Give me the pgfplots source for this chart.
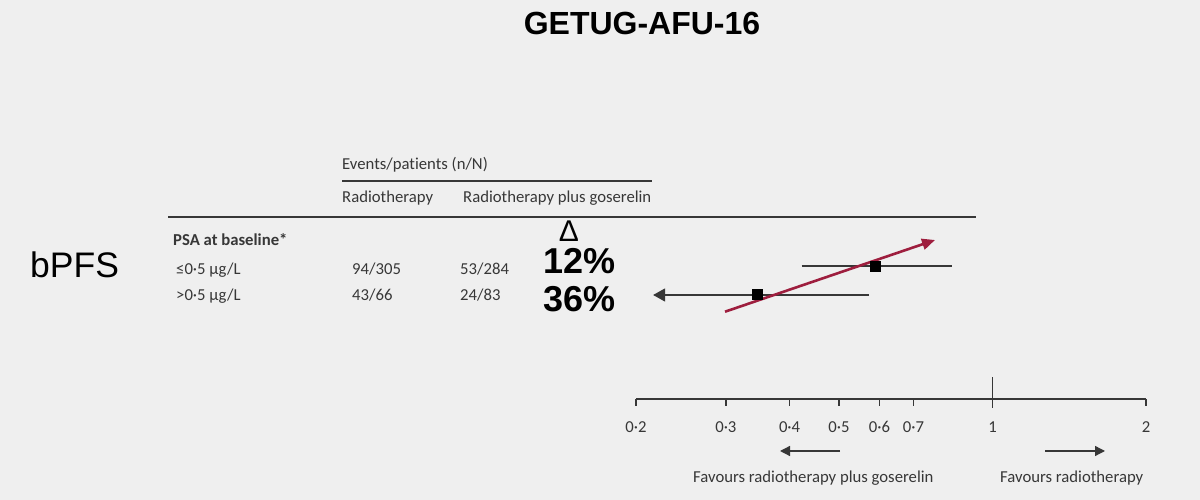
\documentclass[border=0pt]{standalone}
\usepackage{fontspec}
\setmainfont{Carlito}[Ligatures=NoCommon]
\newfontfamily\arial{Liberation Sans}
\usepackage{pgfplots}
\pgfplotsset{compat=1.18}
\usetikzlibrary{arrows.meta}
\definecolor{bg}{RGB}{239,239,239}
\definecolor{txt}{RGB}{55,55,55}
\definecolor{crim}{RGB}{158,30,62}
\newcommand{\tf}{\fontsize{16.7}{20}\selectfont}

\begin{document}
\begin{tikzpicture}
\fill[bg] (0,0) rectangle (1200pt,500pt);
\begin{axis}[at={(0,0)}, anchor=south west, scale only axis,
  width=1200pt, height=500pt, xmode=log, xmin=0.011322, xmax=2.5517,
  ymin=0, ymax=500, y dir=reverse, hide axis, clip=false]
% forest axis
\addplot[draw=txt, line width=1.8pt, forget plot] coordinates {(0.2,399) (2,399)};
\draw[txt, line width=1.5pt] (axis cs:0.2,399) -- (axis cs:0.2,406);
\draw[txt, line width=1.5pt] (axis cs:0.3,399) -- (axis cs:0.3,406);
\draw[txt, line width=1.5pt] (axis cs:0.4,399) -- (axis cs:0.4,406);
\draw[txt, line width=1.5pt] (axis cs:0.5,399) -- (axis cs:0.5,406);
\draw[txt, line width=1.5pt] (axis cs:0.6,399) -- (axis cs:0.6,406);
\draw[txt, line width=1.5pt] (axis cs:0.7,399) -- (axis cs:0.7,406);
\draw[txt, line width=1.6pt] (axis cs:1,377) -- (axis cs:1,408);
\draw[txt, line width=1.5pt] (axis cs:2,399) -- (axis cs:2,406);
\node[anchor=base, txt, font=\tf] at (axis cs:0.2,432) {0·2};
\node[anchor=base, txt, font=\tf] at (axis cs:0.3,432) {0·3};
\node[anchor=base, txt, font=\tf] at (axis cs:0.4,432) {0·4};
\node[anchor=base, txt, font=\tf] at (axis cs:0.5,432) {0·5};
\node[anchor=base, txt, font=\tf] at (axis cs:0.6,432) {0·6};
\node[anchor=base, txt, font=\tf] at (axis cs:0.7,432) {0·7};
\node[anchor=base, txt, font=\tf] at (axis cs:1,432) {1};
\node[anchor=base, txt, font=\tf] at (axis cs:2,432) {2};
% confidence intervals
\addplot[draw=txt, line width=1.4pt, forget plot] coordinates {(0.4225,266) (0.8318,266)};
\addplot[draw=txt, line width=1.4pt, -{Triangle[length=12pt,width=13pt]}, forget plot] coordinates {(0.5727,295) (0.2160,295)};
% hazard ratios
\addplot[only marks, mark=square*, mark size=5pt, black, forget plot] coordinates {(0.590,266.5) (0.3464,294)};
% red trend arrow
\addplot[crim, line width=2.6pt, -{Triangle[length=13pt,width=11pt]}, forget plot] coordinates {(0.2989,311.7) (0.7714,240)};
\end{axis}
\begin{scope}[x=1pt, y=-1pt, yshift=500pt]
\node[anchor=base, inner sep=0, black, font=\arial\bfseries\fontsize{32}{36}\selectfont] at (642,35) {GETUG-AFU-16};
\node[anchor=base west, inner sep=0, black, font=\arial\fontsize{35.5}{40}\selectfont] at (30,278) {bPFS};
\node[anchor=base west, inner sep=0, txt, font=\tf] at (342,170) {Events/patients (n/N)};
\draw[txt, line width=1.2pt] (342,181) -- (652,181);
\node[anchor=base west, inner sep=0, txt, font=\tf] at (342,203) {Radiotherapy};
\node[anchor=base west, inner sep=0, txt, font=\tf] at (463,203) {Radiotherapy plus goserelin};
\draw[txt, line width=2pt] (168,217) -- (976,217);
\node[anchor=base, inner sep=0, black, font=\arial\fontsize{30}{30}\selectfont] at (569,242) {Δ};
\node[anchor=base west, inner sep=0, txt, font=\tf\bfseries] at (173,246) {PSA at baseline*};
\node[anchor=base west, inner sep=0, txt, font=\tf] at (176,275) {≤0·5 µg/L};
\node[anchor=base west, inner sep=0, txt, font=\tf] at (352,275) {94/305};
\node[anchor=base west, inner sep=0, txt, font=\tf] at (460,275) {53/284};
\node[anchor=base west, inner sep=0, txt, font=\tf] at (176,301) {>0·5 µg/L};
\node[anchor=base west, inner sep=0, txt, font=\tf] at (352,301) {43/66};
\node[anchor=base west, inner sep=0, txt, font=\tf] at (460,301) {24/83};
\node[anchor=base west, inner sep=0, black, font=\arial\bfseries\fontsize{36}{40}\selectfont] at (543,274) {12\%};
\node[anchor=base west, inner sep=0, black, font=\arial\bfseries\fontsize{36}{40}\selectfont] at (543,312) {36\%};
\draw[txt, line width=1.3pt, -{Triangle[length=10pt,width=10pt]}] (840,451) -- (780,451);
\draw[txt, line width=1.3pt, -{Triangle[length=10pt,width=10pt]}] (1045,451) -- (1105,451);
\node[anchor=base west, inner sep=0, txt, font=\tf] at (693,483) {Favours radiotherapy plus goserelin};
\node[anchor=base west, inner sep=0, txt, font=\tf] at (1000,483) {Favours radiotherapy};
\end{scope}
\end{tikzpicture}
\end{document}
